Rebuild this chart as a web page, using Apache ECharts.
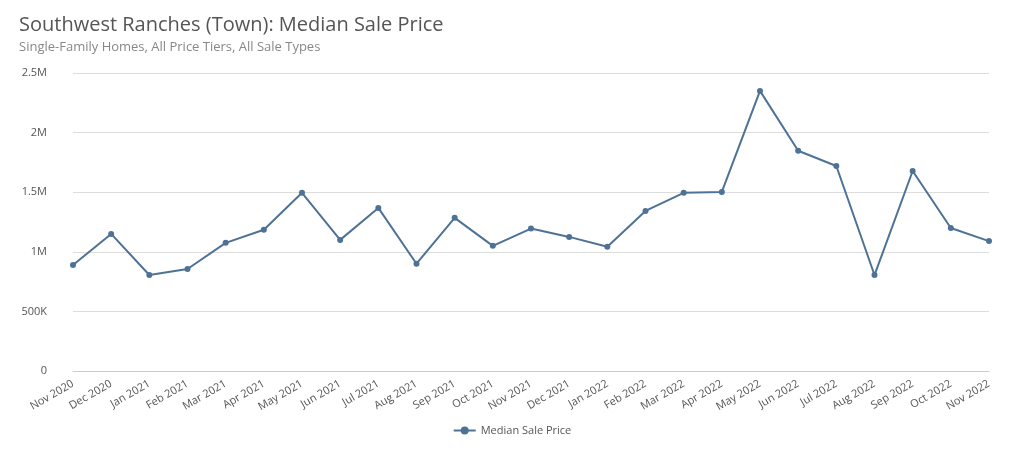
<!DOCTYPE html>
<html><head><meta charset="utf-8">
<script src="https://cdn.jsdelivr.net/npm/echarts@6/dist/echarts.min.js"></script>
<style>html,body{margin:0;padding:0;background:#fff}#c{width:1024px;height:469px}</style>
</head><body><div id="c"></div>
<script>
const categories=["Nov 2020","Dec 2020","Jan 2021","Feb 2021","Mar 2021","Apr 2021","May 2021","Jun 2021","Jul 2021","Aug 2021","Sep 2021","Oct 2021","Nov 2021","Dec 2021","Jan 2022","Feb 2022","Mar 2022","Apr 2022","May 2022","Jun 2022","Jul 2022","Aug 2022","Sep 2022","Oct 2022","Nov 2022"];
const medianSalePrice=[890000,1150000,805000,856000,1075000,1185000,1495000,1100000,1368000,900000,1285000,1050000,1195000,1125000,1042000,1343000,1495000,1502000,2350000,1848000,1720000,805000,1678000,1200000,1090000];
const chart=echarts.init(document.getElementById('c'));
chart.setOption({
  animation:false,
  title:{text:'Southwest Ranches (Town): Median Sale Price',subtext:'Single-Family Homes, All Price Tiers, All Sale Types',left:14,top:10,itemGap:6,
    textStyle:{fontFamily:'Open Sans',fontSize:20,fontWeight:'normal',color:'#555'},
    subtextStyle:{fontFamily:'Open Sans',fontSize:13,color:'#888'}},
  legend:{bottom:28,left:'center',itemWidth:22,itemHeight:10,textStyle:{fontFamily:'Open Sans',fontSize:11,color:'#555'}},
  grid:{left:73,right:35,top:73,bottom:98},
  xAxis:{type:'category',data:categories,boundaryGap:false,
    axisLine:{lineStyle:{color:'#ccc'}},axisTick:{show:false},
    axisLabel:{rotate:30,interval:0,margin:12,fontFamily:'Open Sans',fontSize:11,color:'#555'}},
  yAxis:{type:'value',min:0,max:2500000,interval:500000,
    axisLabel:{fontFamily:'Open Sans',fontSize:11,color:'#555',margin:26,
      formatter:v=>v===0?'0':v>=1000000?(v/1000000)+'M':(v/1000)+'K'},
    splitLine:{lineStyle:{color:'#ddd'}}},
  series:[{name:'Median Sale Price',type:'line',data:medianSalePrice,symbol:'circle',symbolSize:6,
    itemStyle:{color:'#4e7295'},lineStyle:{color:'#4e7295',width:2}}]
});
</script></body></html>
